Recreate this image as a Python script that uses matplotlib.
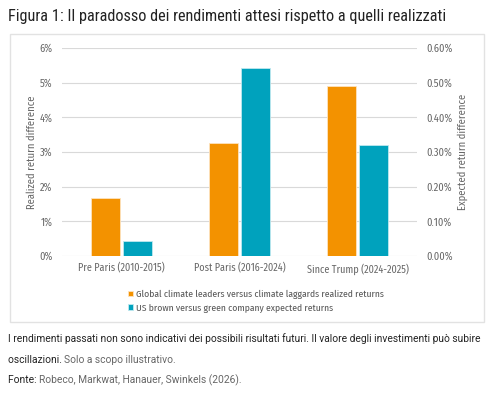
import matplotlib
matplotlib.use("Agg")
import matplotlib.pyplot as plt
from matplotlib.patches import Rectangle
from matplotlib.ticker import FuncFormatter
import numpy as np

categories = ["Pre Paris (2010-2015)", "Post Paris (2016-2024)", "Since Trump (2024-2025)"]
realized = [1.67, 3.26, 4.90]      # % (left axis)
expected = [0.043, 0.542, 0.320]   # % (right axis)
series_labels = ["Global climate leaders versus climate laggards realized returns",
                 "US brown versus green company expected returns"]
left_ticks = [0, 1, 2, 3, 4, 5, 6]
right_ticks = [0.0, 0.1, 0.2, 0.3, 0.4, 0.5, 0.6]

ORANGE = "#F39200"
TEAL = "#00A2BD"
TICKC = "#666666"
TITLEF = ["Roboto Condensed", "DejaVu Sans"]
CHARTF = ["Fira Sans Condensed", "DejaVu Sans"]
NOTEF = ["Roboto", "DejaVu Sans"]

W, H = 499, 395
fig = plt.figure(figsize=(W / 100, H / 100), dpi=100)

def fx(px):
    return px / W

def fy(py):
    return 1 - py / H

# frame box
fig.patches.append(Rectangle((fx(10), fy(322)), fx(484) - fx(10), fy(34) - fy(322),
                             transform=fig.transFigure, fill=False,
                             edgecolor="#e2e2e2", linewidth=1.0))

ax = fig.add_axes([fx(62), fy(256), fx(417) - fx(62), fy(48) - fy(256)])
ax2 = ax.twinx()

x = np.arange(len(categories))
bw = 0.245
b1 = ax.bar(x - bw / 2 - 0.012, realized, bw, color=ORANGE, edgecolor="#fde3bf", linewidth=0.6, zorder=3)
b2 = ax2.bar(x + bw / 2 + 0.012, expected, bw, color=TEAL, edgecolor="#bfe8ef", linewidth=0.6, zorder=3)

ax.set_xlim(-0.5, 2.5)
ax.set_ylim(0, 6)
ax2.set_ylim(0, 0.6)
ax.set_yticks(left_ticks)
ax2.set_yticks(right_ticks)
ax.yaxis.set_major_formatter(FuncFormatter(lambda v, p: f"{v:.0f}%"))
ax2.yaxis.set_major_formatter(FuncFormatter(lambda v, p: f"{v:.2f}%"))
ax.set_xticks(x)
ax.set_xticklabels(categories)

ax.grid(axis="y", color="#d9d9d9", linewidth=0.8, zorder=0)
ax.set_axisbelow(True)
for a in (ax, ax2):
    for s in a.spines.values():
        s.set_visible(False)
    a.tick_params(length=0, colors=TICKC, labelsize=7.5)
ax.tick_params(axis="x", labelsize=7.3, pad=5)
ax.tick_params(axis="y", pad=7)
ax2.tick_params(axis="y", pad=7)
for lab in ax.get_xticklabels() + ax.get_yticklabels() + ax2.get_yticklabels():
    lab.set_family(CHARTF)

fig.text(fx(32), fy(152), "Realized return difference", rotation=90, ha="center", va="center",
         color=TICKC, fontsize=7.6, family=CHARTF)
fig.text(fx(463), fy(152), "Expected return difference", rotation=90, ha="center", va="center",
         color=TICKC, fontsize=7.6, family=CHARTF)

leg = fig.legend([b1, b2], series_labels, loc="upper left",
                 bbox_to_anchor=(fx(128), fy(290)), frameon=False,
                 fontsize=6.9, handlelength=0.5, handleheight=0.5,
                 handletextpad=0.3, labelspacing=0.45, borderaxespad=0, borderpad=0)
for t in leg.get_texts():
    t.set_color("#555555")
    t.set_family(CHARTF)

fig.text(fx(8), fy(16), "Figura 1: Il paradosso dei rendimenti attesi rispetto a quelli realizzati",
         ha="left", va="center", fontsize=11.7, color="#222222", family=TITLEF)

fs = 7.35
fig.text(fx(8), fy(339), "I rendimenti passati non sono indicativi dei possibili risultati futuri. Il valore degli investimenti può subire",
         ha="left", va="center", fontsize=fs, color="#222222", family=NOTEF)
t1 = fig.text(fx(8), fy(360), "oscillazioni. ", ha="left", va="center", fontsize=fs,
              color="#222222", family=NOTEF)
fig.canvas.draw()
bb = t1.get_window_extent()
fig.text(bb.x1 / W, fy(360), "Solo a scopo illustrativo.", ha="left", va="center", fontsize=fs,
         color="#666666", family=NOTEF)
t2 = fig.text(fx(8), fy(380), "Fonte: ", ha="left", va="center", fontsize=fs,
              color="#222222", family=NOTEF)
fig.canvas.draw()
bb = t2.get_window_extent()
fig.text(bb.x1 / W, fy(380), "Robeco, Markwat, Hanauer, Swinkels (2026).", ha="left", va="center",
         fontsize=fs, color="#666666", family=NOTEF)

fig.savefig("out.png", dpi=100)
